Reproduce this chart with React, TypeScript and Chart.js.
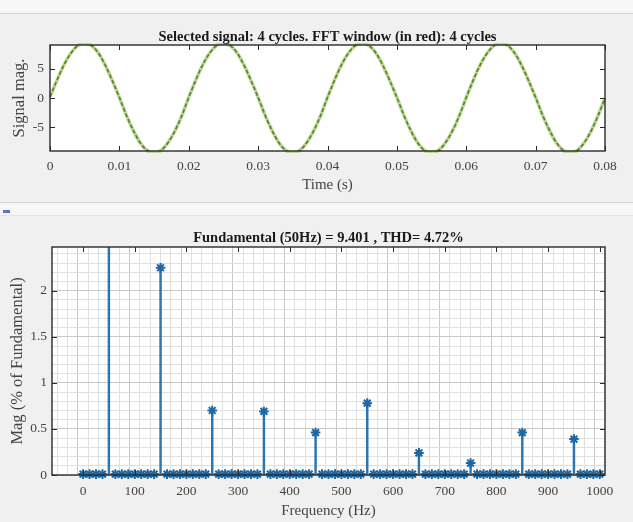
import React, { useEffect, useRef } from "react";
import { Chart, registerables } from "chart.js";

Chart.register(...registerables);

const FONT = '"Liberation Serif", "DejaVu Serif", serif';
const TXT = "#444444";

// ---- Top panel: selected signal ----
const timeS = [
  0, 0.001, 0.002, 0.003, 0.004, 0.005, 0.006, 0.007, 0.008, 0.009,
  0.01, 0.011, 0.012, 0.013, 0.014, 0.015, 0.016, 0.017, 0.018, 0.019,
  0.02, 0.021, 0.022, 0.023, 0.024, 0.025, 0.026, 0.027, 0.028, 0.029,
  0.03, 0.031, 0.032, 0.033, 0.034, 0.035, 0.036, 0.037, 0.038, 0.039,
  0.04, 0.041, 0.042, 0.043, 0.044, 0.045, 0.046, 0.047, 0.048, 0.049,
  0.05, 0.051, 0.052, 0.053, 0.054, 0.055, 0.056, 0.057, 0.058, 0.059,
  0.06, 0.061, 0.062, 0.063, 0.064, 0.065, 0.066, 0.067, 0.068, 0.069,
  0.07, 0.071, 0.072, 0.073, 0.074, 0.075, 0.076, 0.077, 0.078, 0.079,
  0.08,
];
const signalMag = [
  0.2, 3.0, 5.6, 7.6, 8.9, 9.3, 8.9, 7.6, 5.5, 2.9,
  0.1, -2.9, -5.5, -7.6, -8.9, -9.3, -8.9, -7.6, -5.6, -3.0,
  0.1, 3.0, 5.6, 7.6, 8.9, 9.3, 8.9, 7.6, 5.5, 2.9,
  0.1, -2.9, -5.5, -7.6, -8.9, -9.3, -8.9, -7.6, -5.6, -3.0,
  0.1, 3.0, 5.6, 7.6, 8.9, 9.3, 8.9, 7.6, 5.5, 2.9,
  0.1, -2.9, -5.5, -7.6, -8.9, -9.3, -8.9, -7.6, -5.6, -3.0,
  0.1, 3.0, 5.6, 7.6, 8.9, 9.3, 8.9, 7.6, 5.5, 2.9,
  0.1, -2.9, -5.5, -7.6, -8.9, -9.3, -8.9, -7.6, -5.6, -3.0,
  0.0,
];
const timeTicks = [0, 0.01, 0.02, 0.03, 0.04, 0.05, 0.06, 0.07, 0.08];
const signalTicks = [-5, 0, 5];

// ---- Bottom panel: FFT ----
const freqHz = [
  0, 12.5, 25, 37.5, 50, 62.5, 75, 87.5, 100, 112.5, 125, 137.5,
  150, 162.5, 175, 187.5, 200, 212.5, 225, 237.5, 250, 262.5, 275, 287.5,
  300, 312.5, 325, 337.5, 350, 362.5, 375, 387.5, 400, 412.5, 425, 437.5,
  450, 462.5, 475, 487.5, 500, 512.5, 525, 537.5, 550, 562.5, 575, 587.5,
  600, 612.5, 625, 637.5, 650, 662.5, 675, 687.5, 700, 712.5, 725, 737.5,
  750, 762.5, 775, 787.5, 800, 812.5, 825, 837.5, 850, 862.5, 875, 887.5,
  900, 912.5, 925, 937.5, 950, 962.5, 975, 987.5, 1000,
];
const magPct = [
  0.01, 0.01, 0.01, 0.01, 100, 0.01, 0.01, 0.01,
  0.01, 0.01, 0.01, 0.01, 2.25, 0.01, 0.01, 0.01,
  0.01, 0.01, 0.01, 0.01, 0.7, 0.01, 0.01, 0.01,
  0.01, 0.01, 0.01, 0.01, 0.69, 0.01, 0.01, 0.01,
  0.01, 0.01, 0.01, 0.01, 0.46, 0.01, 0.01, 0.01,
  0.01, 0.01, 0.01, 0.01, 0.78, 0.01, 0.01, 0.01,
  0.01, 0.01, 0.01, 0.01, 0.24, 0.01, 0.01, 0.01,
  0.01, 0.01, 0.01, 0.01, 0.13, 0.01, 0.01, 0.01,
  0.01, 0.01, 0.01, 0.01, 0.46, 0.01, 0.01, 0.01,
  0.01, 0.01, 0.01, 0.01, 0.39, 0.01, 0.01, 0.01,
  0.01,
];
const freqTicks = [0, 100, 200, 300, 400, 500, 600, 700, 800, 900, 1000];
const magTicks = [0, 0.5, 1, 1.5, 2];

const topTitle = "Selected signal: 4 cycles. FFT window (in red): 4 cycles";
const botTitle = "Fundamental (50Hz) = 9.401 , THD= 4.72%";

const boxPlugin = {
  id: "box",
  beforeDraw(chart: any) {
    const { ctx, chartArea: a } = chart;
    ctx.save();
    ctx.fillStyle = "#ffffff";
    ctx.fillRect(a.left, a.top, a.right - a.left, a.bottom - a.top);
    ctx.restore();
  },
  afterDraw(chart: any, _args: any, opts: any) {
    const { ctx, chartArea: a, scales } = chart;
    ctx.save();
    ctx.strokeStyle = "#2a2a2a";
    ctx.lineWidth = 1.4;
    ctx.strokeRect(a.left, a.top, a.right - a.left, a.bottom - a.top);
    ctx.lineWidth = 1;
    const len = 5;
    ctx.beginPath();
    for (const v of opts.xTicks) {
      const px = Math.round(scales.x.getPixelForValue(v)) + 0.5;
      ctx.moveTo(px, a.bottom);
      ctx.lineTo(px, a.bottom - len);
      ctx.moveTo(px, a.top);
      ctx.lineTo(px, a.top + len);
    }
    for (const v of opts.yTicks) {
      const py = Math.round(scales.y.getPixelForValue(v)) + 0.5;
      ctx.moveTo(a.left, py);
      ctx.lineTo(a.left + len, py);
      ctx.moveTo(a.right, py);
      ctx.lineTo(a.right - len, py);
    }
    ctx.stroke();
    ctx.font = `bold 14.5px ${FONT}`;
    ctx.fillStyle = "#1a1a1a";
    ctx.textAlign = "center";
    ctx.textBaseline = "alphabetic";
    ctx.fillText(opts.title, (a.left + a.right) / 2, a.top - (opts.titleGap || 3));
    ctx.restore();
  },
};

const tickFont = { family: FONT, size: 13.5 };
const xTitleFont = { family: FONT, size: 15 };
const yTitleFont = { family: FONT, size: 16.5 };

export default function App() {
  const topRef = useRef<HTMLCanvasElement>(null);
  const botRef = useRef<HTMLCanvasElement>(null);

  useEffect(() => {
    const topChart = new Chart(topRef.current!, {
      type: "line",
      data: {
        datasets: [
          {
            data: timeS.map((t, i) => ({ x: t, y: signalMag[i] })),
            borderColor: "#5f7b3e",
            borderWidth: 1.6,
            borderDash: [4, 2],
            pointRadius: 0,
            cubicInterpolationMode: "monotone",
            clip: 0,
            order: 0,
          },
          {
            data: timeS.map((t, i) => ({ x: t, y: signalMag[i] })),
            borderColor: "#b9dc8f",
            borderWidth: 3.5,
            pointRadius: 0,
            cubicInterpolationMode: "monotone",
            clip: 2,
            order: 1,
          },
        ],
      },
      options: {
        responsive: false,
        animation: false,
        events: [],
        layout: { padding: { top: 25, right: 28, left: 0, bottom: 0 } },
        plugins: {
          legend: { display: false },
          tooltip: { enabled: false },
          box: { xTicks: timeTicks, yTicks: signalTicks, title: topTitle, titleGap: 4 },
        } as any,
        scales: {
          x: {
            type: "linear",
            min: 0,
            max: 0.08,
            afterBuildTicks: (s: any) => {
              s.ticks = timeTicks.map((v) => ({ value: v }));
            },
            afterFit: (s: any) => {
              s.height = 49;
            },
            ticks: {
              font: tickFont,
              color: TXT,
              padding: 7,
              maxRotation: 0,
              autoSkip: false,
              callback: (v: any) => String(v),
            },
            grid: { display: false, drawTicks: false },
            border: { display: false },
            title: { display: true, text: "Time (s)", font: xTitleFont, color: TXT, padding: { top: 0, bottom: 6 } },
          },
          y: {
            type: "linear",
            min: -9,
            max: 9,
            afterBuildTicks: (s: any) => {
              s.ticks = signalTicks.map((v) => ({ value: v }));
            },
            afterFit: (s: any) => {
              s.width = 50;
            },
            ticks: { font: tickFont, color: TXT, padding: 6, callback: (v: any) => String(v) },
            grid: { display: false, drawTicks: false },
            border: { display: false },
            title: { display: true, text: "Signal mag.", font: yTitleFont, color: TXT, padding: { top: 10, bottom: 0 } },
          },
        },
      },
      plugins: [boxPlugin],
    } as any);

    const isMajorX = (v: number) => freqTicks.indexOf(v) >= 0;
    const isMajorY = (v: number) => magTicks.indexOf(Math.round(v * 10) / 10) >= 0;

    const botChart = new Chart(botRef.current!, {
      type: "scatter",
      data: {
        datasets: [
          {
            type: "bar",
            data: freqHz.map((f, i) => ({ x: f, y: magPct[i] })),
            backgroundColor: "#2a76b3",
            barThickness: 1.8,
            order: 2,
          },
          {
            type: "scatter",
            data: freqHz.map((f, i) => ({ x: f, y: magPct[i] })),
            pointStyle: "star",
            pointRadius: 4.8,
            borderColor: "#1d67a3",
            backgroundColor: "#1d67a3",
            borderWidth: 2,
            clip: false,
            order: 1,
          },
        ],
      },
      options: {
        responsive: false,
        animation: false,
        events: [],
        layout: { padding: { top: 32, right: 28, left: 0, bottom: 0 } },
        plugins: {
          legend: { display: false },
          tooltip: { enabled: false },
          box: { xTicks: freqTicks, yTicks: magTicks, title: botTitle, titleGap: 5 },
        } as any,
        scales: {
          x: {
            type: "linear",
            min: -50,
            max: 1000,
            afterBuildTicks: (s: any) => {
              const t = [];
              for (let v = -40; v <= 1000; v += 20) t.push({ value: v });
              s.ticks = t;
            },
            afterFit: (s: any) => {
              s.height = 47;
            },
            ticks: {
              font: tickFont,
              color: TXT,
              padding: 8,
              maxRotation: 0,
              autoSkip: false,
              callback: (v: any) => (isMajorX(v) ? String(v) : ""),
            },
            grid: {
              drawTicks: false,
              color: (c: any) => (isMajorX(c.tick?.value) ? "#c8c8c8" : "#e0e0e0"),
              lineWidth: 1,
            },
            border: { display: false },
            title: { display: true, text: "Frequency (Hz)", font: xTitleFont, color: TXT, padding: { top: 0, bottom: 2 } },
          },
          y: {
            type: "linear",
            min: 0,
            max: 2.475,
            afterBuildTicks: (s: any) => {
              const t = [];
              for (let k = 0; k <= 24; k++) t.push({ value: k / 10 });
              s.ticks = t;
            },
            afterFit: (s: any) => {
              s.width = 52;
            },
            ticks: {
              font: tickFont,
              color: TXT,
              padding: 5,
              autoSkip: false,
              callback: (v: any) => (isMajorY(v) ? String(Math.round(v * 10) / 10) : ""),
            },
            grid: {
              drawTicks: false,
              color: (c: any) => (isMajorY(c.tick?.value ?? 0.1) ? "#c8c8c8" : "#e0e0e0"),
              lineWidth: 1,
            },
            border: { display: false },
            title: {
              display: true,
              text: "Mag (% of Fundamental)",
              font: yTitleFont,
              color: TXT,
              padding: { top: 8, bottom: 0 },
            },
          },
        },
      },
      plugins: [boxPlugin],
    } as any);

    return () => {
      topChart.destroy();
      botChart.destroy();
    };
  }, []);

  return (
    <div
      style={{
        position: "absolute",
        left: 0,
        top: 0,
        width: 633,
        height: 522,
        background: "#f0f0f0",
        overflow: "hidden",
      }}
    >
      <div style={{ position: "absolute", left: 0, top: 0, width: 633, height: 13, background: "#f6f6f6", borderBottom: "1px solid #d6d6d6" }} />
      <div style={{ position: "absolute", left: 0, top: 202, width: 633, height: 12, background: "#f6f6f6", borderTop: "1px solid #d6d6d6", borderBottom: "1px solid #e4e4e4" }} />
      <div style={{ position: "absolute", left: 3, top: 210, width: 7, height: 3, background: "#5a78c8" }} />
      <canvas
        ref={topRef}
        width={633}
        height={180}
        style={{ position: "absolute", left: 0, top: 20, width: 633, height: 180 }}
      />
      <canvas
        ref={botRef}
        width={633}
        height={307}
        style={{ position: "absolute", left: 0, top: 215, width: 633, height: 307 }}
      />
    </div>
  );
}
